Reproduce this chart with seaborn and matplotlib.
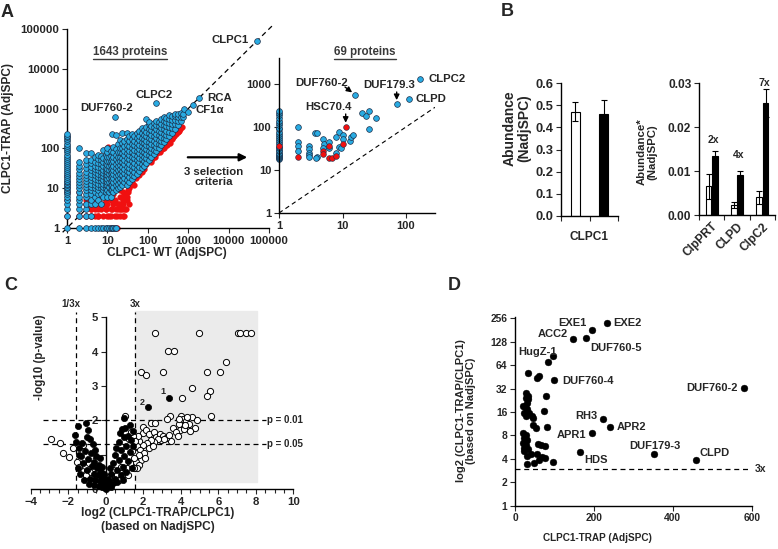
import numpy as np
import pandas as pd
import matplotlib
matplotlib.use("Agg")
import matplotlib.pyplot as plt
import matplotlib.ticker as mticker
from matplotlib.patches import Rectangle, FancyArrowPatch
from matplotlib.lines import Line2D
import seaborn as sns

sns.set_style("ticks")
plt.rcParams["font.family"] = ["Liberation Sans", "DejaVu Sans"]
plt.rcParams["font.weight"] = "bold"
plt.rcParams["axes.labelweight"] = "bold"
plt.rcParams["axes.linewidth"] = 1.0
plt.rcParams["axes.edgecolor"] = "black"

# ---------------- data ----------------
# A: CLPC1-WT vs CLPC1-TRAP (AdjSPC), read per WT column
a_blue_wt = [1, 2, 3, 4, 5, 6, 7, 8, 9, 10, 11, 12, 13, 14, 16, 18, 20, 23, 26, 30,
             35, 40, 46, 53, 60, 70, 80, 92, 105, 120, 140, 160, 185, 215, 250, 290,
             340, 400, 470, 550, 650, 750]
a_blue_trap = [
    [1, 2, 3, 4, 5, 6, 7, 8, 9, 10, 11, 12, 13, 14, 15, 17, 19, 21, 24, 27, 30, 34, 38,
     43, 48, 55, 62, 70, 80, 90, 100, 115, 130, 150, 170, 190, 210, 230],
    [2, 3, 4, 5, 6, 8, 10, 12, 14, 17, 20, 24, 30, 36, 45, 100],
    [2, 3, 4, 6, 7, 9, 11, 13, 15, 18, 22, 26, 32, 40, 50, 75],
    [2, 4, 5, 7, 9, 11, 13, 16, 19, 23, 28, 34, 42, 52, 75],
    [4, 6, 8, 10, 12, 14, 17, 21, 25, 30, 37, 46, 60],
    [5, 7, 9, 11, 13, 16, 19, 23, 28, 34, 42, 55, 70],
    [4, 7, 10, 12, 15, 18, 22, 26, 32, 40, 50, 65],
    [6, 9, 11, 13, 16, 20, 24, 29, 36, 45, 58, 90],
    [8, 10, 12, 15, 18, 22, 27, 33, 41, 52, 68],
    [6, 9, 12, 14, 17, 21, 26, 31, 38, 48, 62, 80, 100],
    [8, 11, 14, 18, 23, 29, 37, 47, 60],
    [6, 9, 12, 15, 19, 24, 30, 38, 49, 64, 85],
    [9, 12, 16, 20, 26, 33, 42, 55, 230],
    [8, 11, 14, 18, 23, 29, 37, 47, 61, 80, 110],
    [9, 12, 15, 20, 25, 32, 41, 53, 70, 95, 220],
    [10, 13, 17, 22, 28, 36, 46, 60, 80, 130],
    [11, 14, 18, 23, 30, 38, 48, 62, 80, 105, 160],
    [12, 16, 21, 27, 35, 45, 58, 75, 100, 140, 250],
    [14, 18, 24, 31, 40, 52, 67, 87, 115, 150],
    [12, 16, 21, 27, 35, 45, 58, 75, 97, 125, 170, 240],
    [14, 19, 25, 32, 41, 53, 68, 88, 115, 150, 200],
    [17, 22, 29, 37, 48, 62, 80, 100, 130, 170, 230],
    [20, 26, 34, 44, 56, 72, 93, 120, 155, 200],
    [23, 30, 39, 50, 65, 84, 108, 140, 180, 240],
    [27, 35, 45, 58, 75, 97, 125, 160, 210, 280],
    [32, 41, 53, 68, 88, 113, 145, 185, 240, 330],
    [37, 48, 62, 80, 103, 133, 170, 220, 290],
    [44, 57, 74, 95, 122, 157, 200, 260, 340, 560],
    [52, 67, 87, 112, 145, 185, 240, 310, 400, 470],
    [61, 79, 102, 132, 170, 220, 285, 370],
    [72, 93, 120, 155, 200, 260, 340, 440],
    [84, 108, 140, 180, 235, 300, 390, 500],
    [100, 129, 166, 215, 280, 360, 460],
    [119, 153, 198, 255, 330, 420, 540],
    [142, 183, 236, 305, 390, 500, 620],
    [168, 216, 280, 360, 460, 590],
    [205, 265, 340, 440, 560, 680],
    [250, 320, 410, 530, 660],
    [310, 400, 510, 640, 740],
    [390, 500, 630, 720],
    [490, 620, 760],
    [600, 720],
]
a_row1_wt = [2, 3, 4, 5, 6, 7, 8, 9, 10, 11, 12, 13, 14, 15, 16]
a_top_wt = [800, 1000, 1350, 1900, 50000, 162, 15.5]
a_top_trap = [1000, 800, 1250, 1900, 50000, 1400, 600]
a_red_wt = [1, 1, 1, 1, 17, 15, 12, 2, 3, 4, 5, 6, 8, 10, 12, 15, 20, 25, 4, 6, 9, 12,
            16, 20, 25, 28, 10, 14, 18, 24, 28, 30, 20, 15, 25, 35, 40, 50, 45, 60, 70,
            80, 90, 110, 120, 150, 200, 250, 300, 350, 400, 450, 500, 600, 700,
            10.6, 20, 15, 8, 6, 3, 2, 22, 26, 18, 32, 11, 13, 17, 19, 22, 24, 26, 27,
            29, 31, 33, 35, 12, 5, 6, 7, 8, 9, 5, 7, 9, 7, 4, 3, 6, 14, 21, 38,
            130, 170, 230, 280, 330, 420, 550, 640]
a_red_trap = [2, 5, 8, 20, 1, 1, 1, 2, 2, 2, 2, 2, 2, 2, 2, 2, 2, 2, 3, 3, 3, 3,
              3, 3, 3, 3, 4, 4, 4, 4, 5, 6, 6, 5, 8, 10, 14, 18, 12, 22, 25,
              30, 40, 50, 45, 60, 80, 100, 120, 140, 170, 200, 230, 280, 350,
              108, 120, 40, 12, 7, 5, 8, 4, 6, 3, 9, 2, 3, 2, 4, 3, 5, 2, 7,
              3, 5, 8, 4, 5, 3, 4, 3, 4, 3, 5, 6, 5, 8, 3, 4, 2, 7, 9, 12,
              55, 75, 95, 125, 160, 190, 260, 300]

# A inset: 69 proteins after selection
in_blue_wt = [1] * 27 + [2, 2, 2, 2, 3, 3, 3, 3, 3, 3.7, 4, 4, 3.8, 4.9, 5.2, 5, 6.1, 6.1,
                         7.9, 8, 8.9, 8.9, 10, 10, 9.5, 12.9, 13.6, 14.8, 16, 20.5, 23.5,
                         26, 33.3, 26, 71, 110, 166]
in_blue_trap = [18, 19, 20, 21, 22, 23, 25, 27, 29, 32, 35, 40, 45, 50, 55, 60, 68, 78,
                88, 95, 110, 125, 140, 160, 185, 210, 230,
                98, 45, 36, 28, 37, 31, 25, 22, 20.4, 74, 71, 20, 18.5, 52, 41, 33, 45,
                33, 24.4, 57, 78, 34, 65, 52, 32, 48, 57, 65, 555, 215, 182, 236, 162,
                91, 336, 440, 1290]
in_red_wt = [1, 2, 4.9, 4.9, 6.1, 6.1, 6.9, 7.8, 10, 11.2]
in_red_trap = [37, 20.5, 28, 24, 36, 19, 18.6, 21, 40, 100]

# B: abundance (NadjSPC), WT (white) and TRAP (black)
b1_lines = ["CLPC1", "CLPC1-TRAP"]
b1_mean = [0.47, 0.46]
b1_err = [0.043, 0.065]
b2_proteins = ["ClpPRT", "CLPD", "ClpC2"]
b2_wt_mean = [0.0065, 0.0023, 0.0040]
b2_wt_err = [0.0028, 0.0007, 0.0015]
b2_trap_mean = [0.0135, 0.0091, 0.0255]
b2_trap_err = [0.0010, 0.0009, 0.0031]
b2_fold = ["2x", "4x", "7x"]
b2_fold_y = [0.0171, 0.0137, 0.0301]

# C: volcano plot
c_open_x = [2.61, 4.98, 7.06, 7.15, 7.47, 7.77, 3.32, 3.64, 6.4, 1.9, 2.17, 3.06, 5.4, 6.08,
            4.6, 5.55, 5.4, 4.04, 5.63, 4.62, 4.0, 4.1, 3.41, 3.27, 4.3, 4.45, 4.85, 4.76,
            3.9, 3.95, 4.15, 4.25, 3.6, 3.75, 3.5, 2.44, 2.61, 2.0, 1.97, 2.15, 2.3, 2.55,
            2.7, 2.9, 3.05, 3.2, 3.35, 2.95, 3.1, 2.8, 2.6, 2.4, 2.2, 2.0, 1.8, 1.7, 1.65,
            1.85, 2.05, 2.3, 2.5, 1.7, 1.9, 1.6, 1.75, 2.1, 1.55, 1.65, 1.8, 3.9, 4.35,
            4.5, 3.85,
            -2.9, -2.42, -2.27, -1.96, -1.2, -1.75, -1.55, -1.3, -1.05, -0.8, -0.65, -0.5,
            -0.3, -0.15, 0.2, 0.4, 0.6, 0.8, 1.05, 1.25, 1.4, 1.5, 1.3, 1.15, 0.95, 0.7,
            0.45, 1.45, 1.35, 1.55, 1.5, 1.2, -0.9, -1.4]
c_open_y = [4.54, 4.54, 4.54, 4.54, 4.54, 4.54, 4.02, 4.02, 3.71, 3.42, 3.32, 3.42, 3.42, 3.42,
            2.93, 2.84, 2.71, 2.66, 2.14, 2.11, 2.12, 2.05, 2.14, 2.03, 1.98, 1.88, 2.0, 1.77,
            1.9, 1.72, 1.75, 1.85, 1.78, 1.65, 1.41, 1.91, 1.91, 1.8, 1.64, 1.72, 1.6, 1.65,
            1.52, 1.6, 1.55, 1.48, 1.58, 1.42, 1.45, 1.45, 1.38, 1.42, 1.35, 1.28, 1.4, 1.55,
            1.25, 1.15, 1.05, 1.2, 1.25, 0.95, 0.85, 0.8, 0.7, 0.9, 1.05, 0.6, 1.0, 2.05, 2.1,
            1.7, 1.55,
            1.46, 1.35, 1.04, 0.94, 1.28, 1.2, 0.8, 0.55, 0.4, 0.5, 0.6, 0.3,
            0.45, 0.15, 0.35, 0.55, 0.4, 0.65, 2.12, 1.45, 1.1, 0.9, 0.75, 0.6, 0.45, 0.25,
            0.2, 1.55, 1.65, 1.4, 0.6, 0.4, 0.75, 0.65]
c_fill_x = [-1.48, -1.03, -1.65, -1.6, -0.95, -0.85, -1.25, -0.7, -1.0, -1.4, -1.1, -0.8,
            -0.5, -1.3, -0.95, -0.6, -0.35, -1.2, -0.75, -0.45, -0.25, -1.0, -0.65, -0.4,
            -0.15, -0.85, -0.55, -0.3, -0.1, -0.6, -0.35, -0.2, -0.05, 0.0, -0.12, -1.5,
            -1.35, -1.45, -0.55, -0.3, -0.2, -0.08, -1.15, -0.9,
            0.95, 1.2, 1.0, 0.7, 1.35, 1.1, 0.8, 0.5, 1.3, 1.0, 0.7, 0.4, 1.2, 0.9, 0.6,
            0.3, 1.4, 1.1, 0.8, 0.5, 0.2, 0.35, 0.15, 0.05, 0.1, 0.25, 0.55, 1.45, 0.85,
            0.75, 1.05, 1.3, 1.45, 0.6, 0.9, 0.12, 0.3,
            3.36, 2.26]
c_fill_y = [1.84, 1.93, 1.57, 1.38, 1.72, 1.45, 1.35, 1.3, 1.5, 1.2, 1.1, 1.05,
            0.95, 0.95, 0.88, 0.8, 0.7, 0.75, 0.68, 0.6, 0.5, 0.55, 0.45, 0.4,
            0.35, 0.3, 0.25, 0.22, 0.18, 0.12, 0.1, 0.06, 0.03, 0.0, 0.25, 0.6,
            0.45, 1.0, 1.15, 0.9, 0.65, 0.45, 0.25, 0.15,
            2.07, 1.55, 1.5, 1.38, 1.42, 1.25, 1.15, 1.0, 1.08, 0.95, 0.85, 0.75, 0.82, 0.65,
            0.55, 0.45, 0.62, 0.5, 0.4, 0.3, 0.22, 0.15, 0.1, 0.05, 0.3, 0.6, 1.2, 1.25, 1.75,
            1.62, 1.78, 1.85, 1.7, 0.2, 0.25, 0.15, 0.05,
            2.64, 2.4]

# D: fold change vs TRAP abundance
d_trap = [232, 194, 148, 179, 97, 84, 100, 580, 222, 242, 194, 165, 353, 460,
          34, 55, 62, 78.6, 28.7, 32, 28, 33, 31, 21, 25, 30, 22, 27, 35, 42, 45, 73,
          46.5, 52.4, 82, 21, 28, 24, 31, 20, 27, 22, 33, 40, 31, 59, 65, 76, 68, 62,
          76, 55, 47, 97, 31, 24]
d_fold = [221, 181, 138, 144, 84, 70, 42, 32.6, 12.9, 10.3, 8.6, 4.9, 4.6, 3.85,
          51, 44, 46, 25.6, 28, 26, 24.6, 23.4, 21, 19.3, 18.5, 17.5, 15.8, 14.3, 15.5,
          14.3, 13.6, 16.6, 10.8, 10.1, 10.4, 8.7, 8.2, 7.5, 7.1, 6.5, 6.0, 5.6, 5.3,
          4.6, 4.4, 6.3, 6.0, 5.8, 4.2, 3.9, 4.1, 4.6, 3.5, 3.7, 3.45, 5.0]
d_names = ["EXE2", "EXE1", "ACC2", "DUF760-5", "HugZ-1", "DUF760-4", "DUF760-2", "RH3",
           "APR2", "APR1", "HDS", "DUF179-3", "CLPD"]

# ---------------- figure ----------------
W, H = 778, 549
fig = plt.figure(figsize=(W / 100, H / 100), dpi=100)


def rect(l, t, r, b):
    return [l / W, 1 - b / H, (r - l) / W, (b - t) / H]


def ftext(x, y, s, **kw):
    kw.setdefault("ha", "center")
    kw.setdefault("va", "center")
    kw.setdefault("weight", "bold")
    return fig.text(x / W, 1 - y / H, s, **kw)


BLUE = "#29abe2"
RED = "#f01010"
DASH = (0, (4, 3))

# ---- A main ----
ax_a = fig.add_axes(rect(67, 29, 269, 228))
bw, bt = [], []
for w, ys in zip(a_blue_wt, a_blue_trap):
    bw += [w] * len(ys)
    bt += ys
bw += a_row1_wt + a_top_wt
bt += [1] * len(a_row1_wt) + a_top_trap
df_blue = pd.DataFrame({"wt": bw, "trap": bt})
df_red = pd.DataFrame({"wt": a_red_wt, "trap": a_red_trap})

ax_a.plot([0.78, 1.25e5], [0.78, 1.25e5], ls=DASH, color="black", lw=0.9,
          clip_on=False, zorder=1)
sns.scatterplot(data=df_red, x="wt", y="trap", color=RED, edgecolor=RED, linewidth=0.3,
                s=17, ax=ax_a, clip_on=False, zorder=2)
sns.scatterplot(data=df_blue, x="wt", y="trap", color=BLUE, edgecolor="#1d2f4a",
                linewidth=0.5, s=17, ax=ax_a, clip_on=False, zorder=3)
ax_a.set(xscale="log", yscale="log", xlim=(1, 1e5), ylim=(1, 1e5), xlabel="", ylabel="")
dec = [1, 10, 100, 1000, 10000, 100000]
ax_a.set_xticks(dec, [str(d) for d in dec])
ax_a.set_yticks(dec, [str(d) for d in dec])
ax_a.minorticks_off()
ax_a.tick_params(labelsize=8.2, length=3.5, width=0.8, pad=2)
sns.despine(ax=ax_a)

ftext(8, 128, "CLPC1-TRAP (AdjSPC)", rotation=90, fontsize=8.6)
ftext(167, 253, "CLPC1- WT (AdjSPC)", fontsize=8.6)
t1643 = ftext(130, 52, "1643 proteins", fontsize=8.3, color="#3a3a3a")
ftext(249, 40, "CLPC1", ha="right", fontsize=8.2)
ftext(154, 95, "CLPC2", fontsize=8.2)
ftext(107, 108, "DUF760-2", fontsize=8.2)
ftext(207, 98, "RCA", ha="left", fontsize=8.2)
ftext(196, 110, "CF1\u03b1", ha="left", fontsize=8.2)

fig.add_artist(Rectangle((181.7 / W, 1 - 196.7 / H), (255 - 181.7) / W, (196.7 - 150) / H,
                         transform=fig.transFigure, color="#e4e4e4", zorder=0))
fig.add_artist(FancyArrowPatch((185 / W, 1 - 157.3 / H), (250 / W, 1 - 157.3 / H),
                               transform=fig.transFigure, arrowstyle="-|>",
                               mutation_scale=11, color="black", lw=1.6))
ftext(214, 177, "3 selection\ncriteria", fontsize=8.2, linespacing=1.1)

# ---- A inset ----
ax_in = fig.add_axes(rect(279, 58, 435, 213))
ax_in.patch.set_alpha(0)
ax_in.plot([1, 286], [1, 286], ls=DASH, color="black", lw=0.8, zorder=1)
sns.scatterplot(x=in_red_wt, y=in_red_trap, color=RED, edgecolor="#1d2f4a", linewidth=0.4,
                s=17, ax=ax_in, clip_on=False, zorder=3)
sns.scatterplot(x=in_blue_wt, y=in_blue_trap, color=BLUE, edgecolor="#1d2f4a",
                linewidth=0.5, s=17, ax=ax_in, clip_on=False, zorder=2)
ax_in.set(xscale="log", yscale="log", xlim=(1, 286), ylim=(1, 4000))
ax_in.set_xticks([1, 10, 100], ["1", "10", "100"])
ax_in.set_yticks([1, 10, 100, 1000], ["1", "10", "100", "1000"])
ax_in.minorticks_off()
ax_in.tick_params(labelsize=8, length=3.5, width=0.8, pad=2)
sns.despine(ax=ax_in)

t69 = ftext(365, 52, "69 proteins", fontsize=8.3, color="#3a3a3a")
ftext(321.7, 83.3, "DUF760-2", fontsize=8.2)
ftext(328.8, 107.3, "HSC70.4", fontsize=8.2)
ftext(389, 85, "DUF179.3", fontsize=8.2)
ftext(428.3, 79.3, "CLPC2", ha="left", fontsize=8.2)
ftext(415, 99.3, "CLPD", ha="left", fontsize=8.2)
arrow_kw = dict(arrowstyle="-|>", color="black", lw=1.0, mutation_scale=8,
                shrinkA=0, shrinkB=3)
ax_in.annotate("", xy=(16, 555), xytext=(345, H - 87), textcoords="figure pixels",
               arrowprops=arrow_kw)
ax_in.annotate("", xy=(11.2, 100), xytext=(345.7, H - 114), textcoords="figure pixels",
               arrowprops=arrow_kw)
ax_in.annotate("", xy=(71, 336), xytext=(396.7, H - 92), textcoords="figure pixels",
               arrowprops=arrow_kw)

# ---- B left ----
ax_b1 = fig.add_axes(rect(561, 83, 618, 216))
sns.barplot(x=b1_lines, y=b1_mean, hue=b1_lines, palette=["white", "black"],
            edgecolor="black", linewidth=0.8, width=0.32, legend=False, ax=ax_b1)
for i, (m, e) in enumerate(zip(b1_mean, b1_err)):
    ax_b1.errorbar(i, m, yerr=e, fmt="none", ecolor="black", elinewidth=0.8,
                   capsize=2.5, capthick=0.8, zorder=5)
ax_b1.set_xlim(-0.5, 1.5)
ax_b1.set_xticks([-0.5, 0.5, 1.5], ["", "CLPC1", ""])
ax_b1.set_ylim(0, 0.6)
ax_b1.set_yticks(np.arange(0, 0.61, 0.1))
ax_b1.yaxis.set_major_formatter(mticker.FormatStrFormatter("%.1f"))
ax_b1.tick_params(axis="y", labelsize=9.3, length=3.5, width=0.8, pad=2)
ax_b1.tick_params(axis="x", labelsize=8.6, length=3.5, width=0.8, pad=7)
ax_b1.set(xlabel="", ylabel="")
sns.despine(ax=ax_b1)
ftext(517, 128, "Abundance\n(NadjSPC)", rotation=90, fontsize=10, linespacing=1.05)

# ---- B right ----
ax_b2 = fig.add_axes(rect(699, 83.3, 775, 215))
df_b2 = pd.DataFrame({
    "protein": b2_proteins * 2,
    "line": ["WT"] * 3 + ["TRAP"] * 3,
    "mean": b2_wt_mean + b2_trap_mean,
})
sns.barplot(data=df_b2, x="protein", y="mean", hue="line",
            palette={"WT": "white", "TRAP": "black"}, edgecolor="black", linewidth=0.8,
            width=0.5, gap=0.08, legend=False, ax=ax_b2)
for cont, errs in zip(ax_b2.containers, [b2_wt_err, b2_trap_err]):
    for bar, e in zip(cont, errs):
        ax_b2.errorbar(bar.get_x() + bar.get_width() / 2, bar.get_height(), yerr=e,
                       fmt="none", ecolor="black", elinewidth=0.8, capsize=2,
                       capthick=0.8, zorder=5)
for i, (lab, y) in enumerate(zip(b2_fold, b2_fold_y)):
    ax_b2.text(i + 0.08, y, lab, ha="center", va="center", fontsize=7.5, weight="bold")
ax_b2.set_xlim(-0.5, 2.5)
ax_b2.set_xticks([0, 1, 2], b2_proteins, rotation=45, ha="right",
                 rotation_mode="anchor")
ax_b2.set_xticks([-0.5, 0.5, 1.5, 2.5], minor=True)
ax_b2.tick_params(axis="x", which="major", length=0, labelsize=8.6, pad=4)
ax_b2.tick_params(axis="x", which="minor", length=3.5, width=0.8)
ax_b2.set_ylim(0, 0.03)
ax_b2.set_yticks([0, 0.01, 0.02, 0.03])
ax_b2.yaxis.set_major_formatter(mticker.FormatStrFormatter("%.2f"))
ax_b2.tick_params(axis="y", labelsize=8.6, length=3.5, width=0.8, pad=2)
ax_b2.set(xlabel="", ylabel="")
sns.despine(ax=ax_b2)
ftext(647, 152, "Abundance*\n(NadjSPC)", rotation=90, fontsize=8.2, linespacing=1.05)

# ---- C volcano ----
ax_c = fig.add_axes(rect(30.7, 317.3, 293.3, 489))
ax_c.add_patch(Rectangle((1.585, 0.2), 8.07 - 1.585, 5.17 - 0.2, color="#ebebeb",
                         zorder=0, clip_on=False))
for xv in (-1.585, 1.585):
    ax_c.plot([xv, xv], [0, 5.15], ls=DASH, color="black", lw=0.9, clip_on=False, zorder=1)
for yv in (2.0, 1.301):
    ax_c.plot([-3.35, 8.55], [yv, yv], ls=DASH, color="black", lw=0.9, clip_on=False,
              zorder=1)
sns.scatterplot(x=c_open_x, y=c_open_y, color="white", edgecolor="black", linewidth=0.7,
                s=20, ax=ax_c, clip_on=False, zorder=3)
sns.scatterplot(x=c_fill_x, y=c_fill_y, color="black", edgecolor="black", linewidth=0.5,
                s=20, ax=ax_c, clip_on=False, zorder=4)
ax_c.set_xlim(-4, 10)
ax_c.set_ylim(0, 5)
ax_c.spines["left"].set_position(("data", 0))
ax_c.set_xticks(np.arange(-4, 11, 2))
ax_c.xaxis.set_minor_locator(mticker.MultipleLocator(0.5))
ax_c.set_yticks(range(6))
ax_c.tick_params(labelsize=8.2, length=3.5, width=0.8, pad=2)
ax_c.tick_params(which="minor", length=3, width=0.8)
ax_c.set(xlabel="", ylabel="")
sns.despine(ax=ax_c)
ax_c.text(-1.87, 5.38, "1/3x", ha="center", va="center", fontsize=7, weight="bold")
ax_c.text(1.55, 5.38, "3x", ha="center", va="center", fontsize=7, weight="bold")
ax_c.text(8.62, 2.0, "p = 0.01", ha="left", va="center", fontsize=7, weight="bold")
ax_c.text(8.62, 1.301, "p = 0.05", ha="left", va="center", fontsize=7, weight="bold")
ax_c.text(3.06, 2.84, "1", ha="center", va="center", fontsize=6.5, weight="bold")
ax_c.text(1.94, 2.52, "2", ha="center", va="center", fontsize=6.5, weight="bold")
ftext(40, 357, "-log10 (p-value)", rotation=90, fontsize=8.3)
ftext(158, 512.7, "log2 (CLPC1-TRAP/CLPC1)", fontsize=8.6)
ftext(158, 526.7, "(based on NadjSPC)", fontsize=8.6)

# ---- D ----
ax_d = fig.add_axes(rect(515, 316.7, 751.7, 505.7))
ax_d.plot([0, 590], [3, 3], ls=DASH, color="black", lw=0.9, clip_on=False, zorder=1)
sns.scatterplot(x=d_trap, y=d_fold, color="black", edgecolor="black", linewidth=0.3,
                s=24, ax=ax_d, clip_on=False, zorder=3)
ax_d.set_yscale("log", base=2)
ax_d.set_ylim(1, 270)
ax_d.set_xlim(0, 600)
ticks2 = [1, 2, 4, 8, 16, 32, 64, 128, 256]
ax_d.set_yticks(ticks2, [str(t) for t in ticks2])
ax_d.minorticks_off()
ax_d.set_xticks([0, 200, 400, 600])
ax_d.tick_params(labelsize=7.4, length=3.5, width=0.8, pad=2)
ax_d.set(xlabel="", ylabel="")
sns.despine(ax=ax_d)
d_lab_pos = [(613.3, 323.3, "left"), (586.5, 323.3, "right"), (568.3, 334, "right"),
             (590.7, 348.3, "left"), (556.7, 351.7, "right"), (562.3, 380.7, "left"),
             (737.3, 387.7, "right"), (597, 416, "right"), (616.7, 427.3, "left"),
             (586.5, 435, "right"), (584.3, 460, "left"), (655, 446, "center"),
             (700, 453.3, "left")]
for name, (px, py, ha) in zip(d_names, d_lab_pos):
    ftext(px, py, name, ha=ha, fontsize=8)
ftext(755, 469.3, "3x", ha="left", fontsize=7.5)
ftext(466, 411, "log2 (CLPC1-TRAP/CLPC1)\n(based on NadjSPC)", rotation=90, fontsize=8,
      linespacing=1.05)
ftext(597, 538, "CLPC1-TRAP (AdjSPC)", fontsize=7.2)

# panel letters
for (px, py, s) in [(7.5, 12.5, "A"), (507.5, 12, "B"), (11, 286, "C"), (454, 285, "D")]:
    ftext(px, py, s, fontsize=13)

# underline the protein counts
fig.canvas.draw()
rend = fig.canvas.get_renderer()
for t in (t1643, t69):
    bb = t.get_window_extent(rend)
    fig.add_artist(Line2D([bb.x0 / W, bb.x1 / W], [(bb.y0 - 0.5) / H, (bb.y0 - 0.5) / H],
                          transform=fig.transFigure, color="#3a3a3a", lw=1.0))

fig.savefig("out.png", dpi=100)
